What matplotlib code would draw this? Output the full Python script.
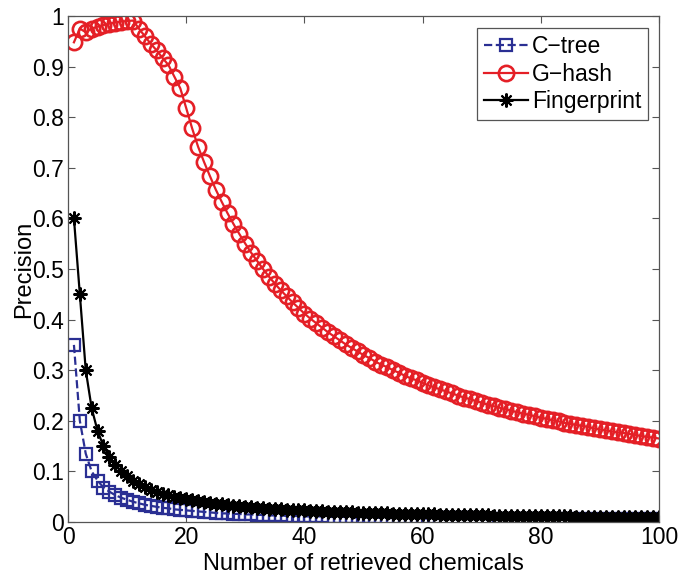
import matplotlib
matplotlib.use("Agg")
import matplotlib.pyplot as plt

plt.rcParams["font.family"] = ["Liberation Sans", "DejaVu Sans"]

# number of retrieved chemicals: 1..100
n_retrieved = list(range(1, 101))

ctree = [
    0.350, 0.200, 0.135, 0.100, 0.082, 0.068, 0.060, 0.053, 0.048, 0.044,
    0.040, 0.037, 0.034, 0.032, 0.030, 0.028, 0.027, 0.025, 0.024, 0.023,
    0.022, 0.021, 0.020, 0.019, 0.018, 0.017, 0.017, 0.016, 0.016, 0.015,
    0.015, 0.014, 0.014, 0.013, 0.013, 0.013, 0.012, 0.012, 0.012, 0.011,
    0.011, 0.011, 0.011, 0.010, 0.010, 0.010, 0.010, 0.009, 0.009, 0.009,
    0.009, 0.009, 0.008, 0.008, 0.008, 0.008, 0.008, 0.008, 0.008, 0.007,
    0.007, 0.007, 0.007, 0.007, 0.007, 0.007, 0.007, 0.007, 0.006, 0.006,
    0.006, 0.006, 0.006, 0.006, 0.006, 0.006, 0.006, 0.006, 0.006, 0.006,
    0.005, 0.005, 0.005, 0.005, 0.005, 0.005, 0.005, 0.005, 0.005, 0.005,
    0.005, 0.005, 0.005, 0.005, 0.005, 0.005, 0.005, 0.005, 0.005, 0.005,
]

ghash = [
    0.948, 0.975, 0.968, 0.975, 0.979, 0.982, 0.985, 0.987, 0.989, 0.990,
    0.991, 0.975, 0.960, 0.945, 0.932, 0.917, 0.903, 0.880, 0.857, 0.818,
    0.778, 0.742, 0.712, 0.684, 0.657, 0.633, 0.610, 0.589, 0.569, 0.550,
    0.532, 0.516, 0.500, 0.485, 0.471, 0.458, 0.446, 0.434, 0.423, 0.412,
    0.402, 0.393, 0.384, 0.375, 0.367, 0.359, 0.351, 0.344, 0.337, 0.330,
    0.324, 0.317, 0.311, 0.306, 0.300, 0.295, 0.289, 0.284, 0.280, 0.275,
    0.270, 0.266, 0.262, 0.258, 0.254, 0.250, 0.246, 0.243, 0.239, 0.236,
    0.232, 0.229, 0.226, 0.223, 0.220, 0.217, 0.214, 0.212, 0.209, 0.206,
    0.204, 0.201, 0.199, 0.196, 0.194, 0.192, 0.190, 0.188, 0.185, 0.183,
    0.181, 0.179, 0.177, 0.176, 0.174, 0.172, 0.170, 0.168, 0.167, 0.165,
]

fingerprint = [
    0.600, 0.450, 0.300, 0.225, 0.180, 0.150, 0.129, 0.113, 0.100, 0.090,
    0.082, 0.075, 0.069, 0.064, 0.060, 0.056, 0.053, 0.050, 0.047, 0.045,
    0.043, 0.041, 0.039, 0.038, 0.036, 0.035, 0.033, 0.032, 0.031, 0.030,
    0.029, 0.028, 0.027, 0.026, 0.026, 0.025, 0.024, 0.024, 0.023, 0.023,
    0.022, 0.021, 0.021, 0.020, 0.020, 0.020, 0.019, 0.019, 0.018, 0.018,
    0.018, 0.017, 0.017, 0.017, 0.016, 0.016, 0.016, 0.016, 0.015, 0.015,
    0.015, 0.015, 0.014, 0.014, 0.014, 0.014, 0.013, 0.013, 0.013, 0.013,
    0.013, 0.012, 0.012, 0.012, 0.012, 0.012, 0.012, 0.012, 0.011, 0.011,
    0.011, 0.011, 0.011, 0.011, 0.011, 0.010, 0.010, 0.010, 0.010, 0.010,
    0.010, 0.010, 0.010, 0.010, 0.009, 0.009, 0.009, 0.009, 0.009, 0.009,
]

x_ticks = [0, 20, 40, 60, 80, 100]
y_ticks = [0, 0.1, 0.2, 0.3, 0.4, 0.5, 0.6, 0.7, 0.8, 0.9, 1]
y_ticklabels = ["0", "0.1", "0.2", "0.3", "0.4", "0.5", "0.6", "0.7", "0.8", "0.9", "1"]

# ---------- plot ------------------------------------------------------
fig = plt.figure(figsize=(6.85, 5.77), dpi=100)
ax = fig.add_axes([0.0993, 0.0953, 0.8627, 0.877])

ax.plot(n_retrieved, ctree, ls="--", lw=1.6, color="#2a2f93",
        marker="s", ms=8, mfc="none", mew=1.6, label="C\u2212tree")
ax.plot(n_retrieved, ghash, ls="-", lw=1.6, color="#e41f26",
        marker="o", ms=11, mfc="none", mew=1.9, label="G\u2212hash")
ax.plot(n_retrieved, fingerprint, ls="-", lw=1.6, color="black",
        marker=(8, 2, 0), ms=10, mew=1.5, label="Fingerprint")

ax.set_xlim(0, 100)
ax.set_ylim(0, 1)
ax.set_xticks(x_ticks)
ax.set_yticks(y_ticks)
ax.set_yticklabels(y_ticklabels)
ax.tick_params(direction="in", top=True, right=True, labelsize=16.5,
               length=5, color="#555555", pad=3)
for s in ax.spines.values():
    s.set_color("#555555")
    s.set_linewidth(0.9)

ax.set_xlabel("Number of retrieved chemicals", fontsize=17, labelpad=3)
ax.set_ylabel("Precision", fontsize=17, labelpad=-2)

leg = ax.legend(loc="upper right", bbox_to_anchor=(0.99, 0.985), fontsize=16.5,
                fancybox=False, framealpha=1, edgecolor="#555555",
                handlelength=1.9, handletextpad=0.2, borderpad=0.3,
                labelspacing=0.2, borderaxespad=0.2)
leg.get_frame().set_linewidth(0.9)

fig.savefig("out.png", dpi=100)
plt.close()
